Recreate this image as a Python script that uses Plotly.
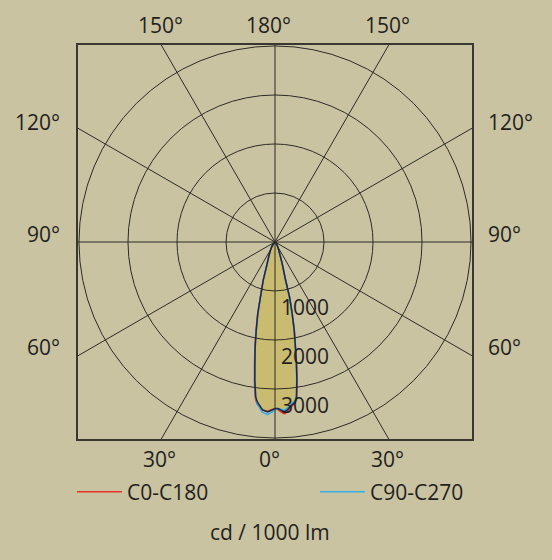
import numpy as np
import plotly.graph_objects as go

# luminous intensity (cd / 1000 lm) vs gamma angle, negative = left half
gamma = [-180, -90, -60, -45, -40, -33, -28.5, -24, -19.9, -17.1, -14.8, -13.5, -12.0, -10.7,
         -9.4, -8.3, -7.1, -6.3, -4.3, -2.5, -1.0, 0, 1.0, 2.2, 3.2, 4.1, 5.5, 7.2, 7.9, 9.0,
         10.0, 11.0, 12.3, 13.5, 14.8, 15.5, 18.4, 24.6, 33.7, 45, 60, 90, 180]
outline = [0, 0, 10, 40, 88, 140, 193, 300, 469, 818, 1161, 1503, 1842, 2181,
           2516, 2852, 3187, 3285, 3430, 3470, 3430, 3400, 3400, 3440, 3470, 3440, 3360, 3291, 3193, 2857,
           2520, 2183, 1844, 1503, 1161, 810, 465, 186, 81, 30, 8, 0, 0]
c0_c180 = [0, 0, 10, 42, 90, 145, 198, 308, 480, 835, 1185, 1530, 1875, 2220,
           2560, 2900, 3230, 3330, 3445, 3455, 3420, 3400, 3420, 3480, 3515, 3475, 3385, 3305, 3205, 2870,
           2535, 2195, 1855, 1512, 1168, 815, 468, 188, 82, 30, 8, 0, 0]
c90_c270 = [0, 0, 10, 40, 87, 138, 190, 296, 462, 810, 1150, 1492, 1830, 2170,
            2505, 2845, 3190, 3320, 3480, 3525, 3470, 3420, 3400, 3420, 3440, 3400, 3330, 3265, 3160, 2820,
            2485, 2150, 1815, 1480, 1140, 795, 455, 182, 80, 29, 8, 0, 0]

ring_values = [1000, 2000, 3000, 4000]
ring_labels = ["1000", "2000", "3000"]
spoke_angles = [0, 30, 60, 90, 120, 150]

angle_labels = ["150°", "180°", "150°", "120°", "90°", "60°", "120°", "90°", "60°", "30°", "0°", "30°"]
# label anchor positions in pixels (x, y) and horizontal anchor
label_pos = [(160, 25, "center"), (268, 25, "center"), (387, 25, "center"),
             (62, 122, "right"), (62, 234, "right"), (62, 347, "right"),
             (486, 122, "left"), (486, 234, "left"), (486, 347, "left"),
             (159, 459, "center"), (269, 459, "center"), (387, 459, "center")]

W, H = 552, 560
BG = "#C9C3A1"
INK = "#231F20"
GRID = "#2E2B27"
FONT = "Open Sans"
R_MAX = 4020

dom_x = [78 / W, 472 / W]
dom_y = [1 - 439 / H, 1 - 45 / H]

fig = go.Figure()

# filled beam
fig.add_trace(go.Scatterpolar(r=outline, theta=gamma, mode="lines", fill="toself",
                              fillcolor="#C9BC70", line=dict(color="#1B2A4A", width=0),
                              showlegend=False, hoverinfo="skip"))
fig.add_trace(go.Scatterpolar(r=c0_c180, theta=gamma, mode="lines", name="C0-C180",
                              line=dict(color="#E5332A", width=1.5), legend="legend"))
fig.add_trace(go.Scatterpolar(r=c90_c270, theta=gamma, mode="lines", name="C90-C270",
                              line=dict(color="#36AEE6", width=1.5), legend="legend2"))
fig.add_trace(go.Scatterpolar(r=outline, theta=gamma, mode="lines",
                              line=dict(color="#1B2A4A", width=1.5),
                              showlegend=False, hoverinfo="skip"))
# empty cartesian trace so the frame axes exist
fig.add_trace(go.Scatter(x=[], y=[], showlegend=False, hoverinfo="skip"))

leg = dict(orientation="h", yanchor="middle", xanchor="left", y=1 - 492 / H,
           bgcolor="rgba(0,0,0,0)", font=dict(size=21, color=INK), itemwidth=45)

fig.update_layout(
    width=W, height=H, autosize=False,
    margin=dict(l=0, r=0, t=0, b=0),
    paper_bgcolor=BG, plot_bgcolor="rgba(0,0,0,0)",
    font=dict(family=FONT, size=21, color=INK),
    polar=dict(
        domain=dict(x=dom_x, y=dom_y),
        bgcolor="rgba(0,0,0,0)",
        radialaxis=dict(range=[0, R_MAX], visible=False, showgrid=False, showline=False),
        angularaxis=dict(rotation=-90, direction="counterclockwise", visible=False,
                         showgrid=False, showline=False),
    ),
    xaxis=dict(domain=dom_x, range=[-R_MAX, R_MAX], showgrid=False, zeroline=False,
               showticklabels=False, ticks="", showline=True, mirror=True,
               linecolor="#3A3632", linewidth=2, fixedrange=True),
    yaxis=dict(domain=dom_y, range=[-R_MAX, R_MAX], showgrid=False, zeroline=False,
               showticklabels=False, ticks="", showline=True, mirror=True,
               linecolor="#3A3632", linewidth=2, fixedrange=True),
    legend=dict(leg, x=72 / W),
    legend2=dict(leg, x=315 / W),
)

# rings and spokes drawn over the beam
for v in ring_values:
    fig.add_shape(type="circle", xref="x", yref="y", x0=-v, y0=-v, x1=v, y1=v,
                  line=dict(color=GRID, width=1), layer="above")
for a in spoke_angles:
    t = np.radians(a)
    L = 3 * R_MAX
    fig.add_shape(type="line", xref="x", yref="y",
                  x0=-L * np.sin(t), y0=-L * np.cos(t), x1=L * np.sin(t), y1=L * np.cos(t),
                  line=dict(color=GRID, width=1), layer="above")

for v, txt in zip(ring_values, ring_labels):
    fig.add_annotation(x=0, y=-v, xref="x", yref="y", text=txt, showarrow=False,
                       xanchor="left", yanchor="middle", xshift=4, yshift=-16)

for txt, (px, py, anc) in zip(angle_labels, label_pos):
    fig.add_annotation(x=px / W, y=1 - py / H, xref="paper", yref="paper", text=txt,
                       showarrow=False, xanchor=anc, yanchor="middle")

fig.add_annotation(x=270 / W, y=1 - 532 / H, xref="paper", yref="paper", text="cd / 1000 lm",
                   showarrow=False, xanchor="center", yanchor="middle")

fig.write_html("out.html", config={"displayModeBar": False},
               post_script="document.body.style.margin='0';")
